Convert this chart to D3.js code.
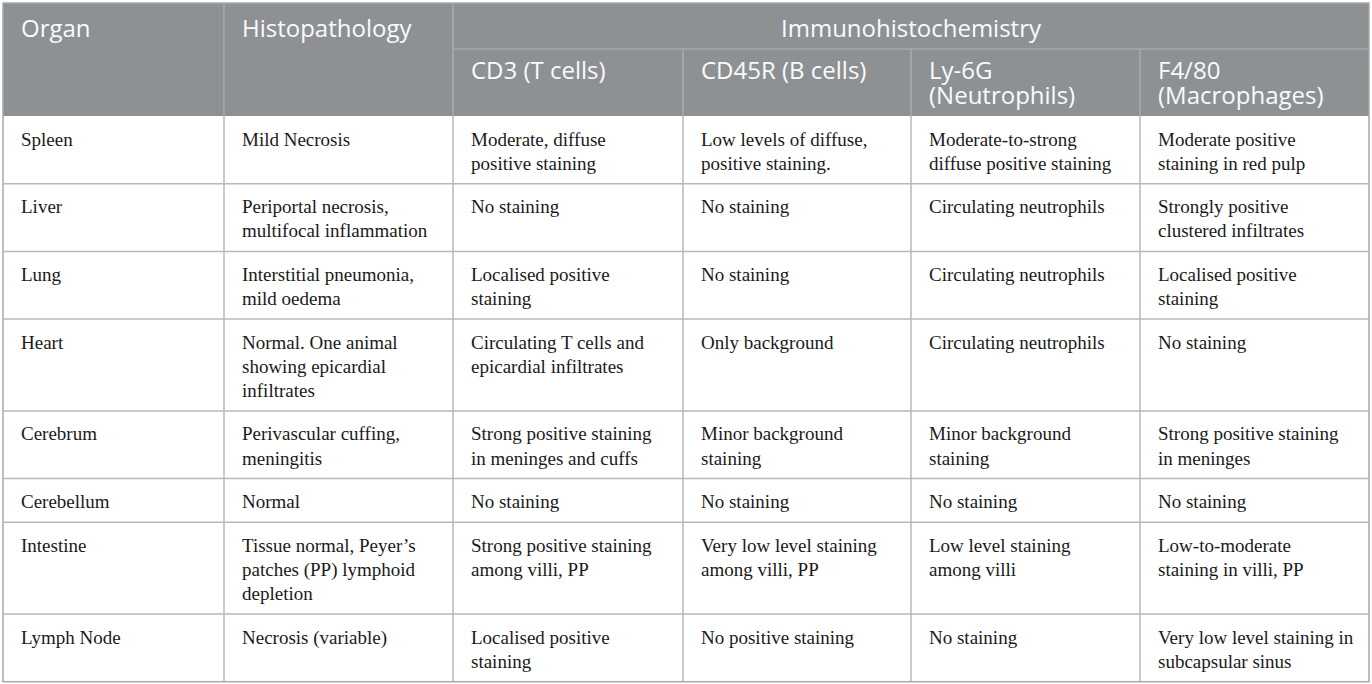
<!DOCTYPE html>
<html><head><meta charset="utf-8">
<script src="https://cdn.jsdelivr.net/npm/d3@7"></script>
<style>
html,body{margin:0;padding:0;background:#fff;}
svg{display:block;}
</style></head>
<body>
<svg id="chart" width="1372" height="684"></svg>
<script>
const headerTop = ["Organ", "Histopathology", "Immunohistochemistry"];
const headerSub = ["CD3 (T cells)", "CD45R (B cells)", "Ly-6G\n(Neutrophils)", "F4/80\n(Macrophages)"];
const organs = ["Spleen", "Liver", "Lung", "Heart", "Cerebrum", "Cerebellum", "Intestine", "Lymph Node"];
const histopathology = [
  "Mild Necrosis",
  "Periportal necrosis,\nmultifocal inflammation",
  "Interstitial pneumonia,\nmild oedema",
  "Normal. One animal\nshowing epicardial\ninfiltrates",
  "Perivascular cuffing,\nmeningitis",
  "Normal",
  "Tissue normal, Peyer\u2019s\npatches (PP) lymphoid\ndepletion",
  "Necrosis (variable)"
];
const cd3 = [
  "Moderate, diffuse\npositive staining",
  "No staining",
  "Localised positive\nstaining",
  "Circulating T cells and\nepicardial infiltrates",
  "Strong positive staining\nin meninges and cuffs",
  "No staining",
  "Strong positive staining\namong villi, PP",
  "Localised positive\nstaining"
];
const cd45r = [
  "Low levels of diffuse,\npositive staining.",
  "No staining",
  "No staining",
  "Only background",
  "Minor background\nstaining",
  "No staining",
  "Very low level staining\namong villi, PP",
  "No positive staining"
];
const ly6g = [
  "Moderate-to-strong\ndiffuse positive staining",
  "Circulating neutrophils",
  "Circulating neutrophils",
  "Circulating neutrophils",
  "Minor background\nstaining",
  "No staining",
  "Low level staining\namong villi",
  "No staining"
];
const f480 = [
  "Moderate positive\nstaining in red pulp",
  "Strongly positive\nclustered infiltrates",
  "Localised positive\nstaining",
  "No staining",
  "Strong positive staining\nin meninges",
  "No staining",
  "Low-to-moderate\nstaining in villi, PP",
  "Very low level staining in\nsubcapsular sinus"
];

const svg = d3.select("#chart");
const L = 3, R = 1369, T = 3;
const colEdges = [3, 224, 453, 683, 911, 1140, 1369];
const lineH = 24.1, base = 19.5, padX = 18;
const h1 = 46, h2 = 67;
const headerBottom = T + h1 + h2;

const columns = [organs, histopathology, cd3, cd45r, ly6g, f480];
const rows = organs.map((o, i) => columns.map(c => c[i].split("\n")));
const rowH = rows.map(r => d3.max(r, c => c.length) * lineH + base);
const rowTops = [];
let acc = headerBottom;
rowH.forEach(h => { rowTops.push(acc); acc += h; });
const bottom = acc;

// header background
svg.append("rect").attr("x", L).attr("y", T).attr("width", R - L).attr("height", headerBottom - T).attr("fill", "#8d9194");

const hdrLine = "#aeb2b4", bodyLine = "#b9b9b9";
svg.append("line").attr("x1", colEdges[2]).attr("x2", R).attr("y1", T + h1).attr("y2", T + h1).attr("stroke", hdrLine).attr("stroke-width", 1.2);
[1, 2].forEach(i => svg.append("line").attr("x1", colEdges[i]).attr("x2", colEdges[i]).attr("y1", T).attr("y2", headerBottom).attr("stroke", hdrLine).attr("stroke-width", 1.2));
[3, 4, 5].forEach(i => svg.append("line").attr("x1", colEdges[i]).attr("x2", colEdges[i]).attr("y1", T + h1).attr("y2", headerBottom).attr("stroke", hdrLine).attr("stroke-width", 1.2));

const hfont = "'Open Sans', Lato, sans-serif";
const hsize = 24;
const bfont = "'Liberation Serif', 'DejaVu Serif', serif";
const bsize = 19;

function addText(x, yTop, lines, opts) {
  const lh = opts.lh || 0;
  const t = svg.append("text").attr("x", x).attr("font-family", opts.font).attr("font-size", opts.size)
    .attr("fill", opts.fill).attr("text-anchor", opts.anchor || "start");
  lines.forEach((ln, k) => {
    t.append("tspan").attr("x", x).attr("y", yTop + k * lh).attr("dominant-baseline", "central").text(ln);
  });
}

addText(colEdges[0] + padX, 27, [headerTop[0]], {font: hfont, size: hsize, fill: "#fafafa"});
addText(colEdges[1] + padX, 27, [headerTop[1]], {font: hfont, size: hsize, fill: "#fafafa"});
addText((colEdges[2] + R) / 2, 27, [headerTop[2]], {font: hfont, size: hsize, fill: "#fafafa", anchor: "middle"});
headerSub.forEach((s, i) => addText(colEdges[i + 2] + padX, 69.5, s.split("\n"), {font: hfont, size: hsize, fill: "#fafafa", lh: 25}));

// body lines
rowTops.slice(1).forEach(yy => svg.append("line").attr("x1", L).attr("x2", R).attr("y1", yy).attr("y2", yy).attr("stroke", bodyLine).attr("stroke-width", 1.5));
colEdges.slice(1, -1).forEach(xx => svg.append("line").attr("x1", xx).attr("x2", xx).attr("y1", headerBottom).attr("y2", bottom).attr("stroke", bodyLine).attr("stroke-width", 1.5));

// outer border
svg.append("rect").attr("x", L).attr("y", T).attr("width", R - L).attr("height", bottom - T).attr("fill", "none").attr("stroke", "#a9a9a9").attr("stroke-width", 1.5);

rows.forEach((r, i) => {
  r.forEach((cell, j) => {
    addText(colEdges[j] + padX, rowTops[i] + 23, cell, {font: bfont, size: bsize, fill: "#1a1a1a", lh: lineH});
  });
});
</script>
</body></html>
